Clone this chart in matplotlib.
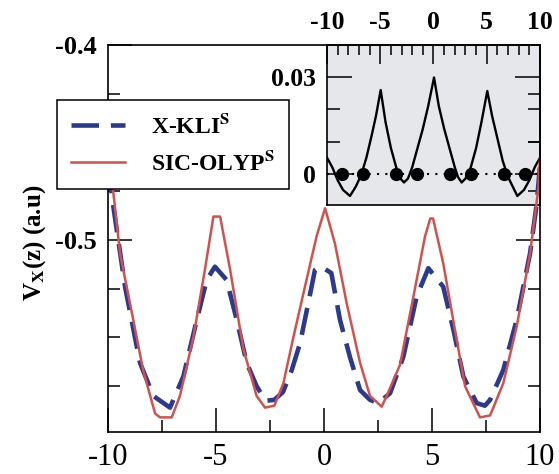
import matplotlib
matplotlib.use("Agg")
import matplotlib.pyplot as plt
from matplotlib.ticker import MultipleLocator, FixedLocator, FixedFormatter

plt.rcParams['font.family'] = ['Liberation Serif', 'DejaVu Serif']
plt.rcParams['mathtext.fontset'] = 'stix'
plt.rcParams['axes.unicode_minus'] = False

# ---------------- data ----------------
red_x = [-10, -9.75, -9.44, -8.83, -8.37, -7.82, -7.59, -7.05, -6.67, -6.05, -5.51,
         -5.12, -4.81, -4.35, -3.73, -3.12, -2.73, -2.3, -1.88, -1.42, -0.81, -0.34,
         0.05, 0.51, 1.05, 1.67, 2.13, 2.67, 2.9, 3.52, 4.14, 4.68, 4.92, 5.05, 5.52,
         6.06, 6.53, 7.22, 7.69, 8.3, 8.92, 9.54, 9.93, 10]
red_y = [-0.458, -0.476, -0.507, -0.541, -0.567, -0.589, -0.591, -0.591, -0.580,
         -0.550, -0.515, -0.488, -0.488, -0.515, -0.556, -0.580, -0.586, -0.585,
         -0.5735, -0.550, -0.5205, -0.498, -0.4837, -0.502, -0.5325, -0.563, -0.580,
         -0.5855, -0.580, -0.564, -0.529, -0.498, -0.489, -0.489, -0.512, -0.546,
         -0.575, -0.591, -0.590, -0.5735, -0.5445, -0.507, -0.473, -0.458]

blue_x = [-10, -9.75, -9.21, -8.52, -7.9, -7.13, -6.51, -5.89, -5.43, -5.05, -4.51,
          -4.04, -3.58, -3.12, -2.7, -2.3, -1.9, -1.5, -1.11, -0.73, -0.42, -0.15,
          0.34, 0.74, 1.2, 1.67, 2.13, 2.5, 3.06, 3.67, 4.29, 4.83, 5.52, 5.99, 6.45,
          7.07, 7.45, 7.69, 8.3, 8.92, 9.54, 9.85, 10]
blue_y = [-0.462, -0.483, -0.524, -0.563, -0.580, -0.586, -0.570, -0.541, -0.5205,
          -0.5137, -0.5205, -0.541, -0.563, -0.575, -0.5825, -0.582, -0.578, -0.567,
          -0.553, -0.5325, -0.5154, -0.5135, -0.517, -0.541, -0.560, -0.577, -0.582,
          -0.5837, -0.5786, -0.560, -0.529, -0.5145, -0.524, -0.546, -0.570, -0.5837,
          -0.585, -0.582, -0.5667, -0.541, -0.5068, -0.4812, -0.462]

inset_x = [-10, -9.5, -9.0, -8.5, -7.84, -7.3, -6.8, -6.3, -5.8, -5.4, -4.96, -4.5,
           -4.0, -3.5, -3.1, -2.77, -2.4, -2.0, -1.5, -1.0, -0.5, 0.05, 0.5, 1.0, 1.5,
           2.0, 2.3, 2.64, 3.0, 3.5, 4.0, 4.5, 5.05, 5.5, 6.0, 6.5, 7.0, 7.87, 8.5,
           9.0, 9.5, 10]
inset_y = [0.005, 0.002, -0.002, -0.005, -0.0069, -0.004, -0.0005, 0.005, 0.012,
           0.018, 0.026, 0.016, 0.008, 0.002, -0.0015, -0.0027, -0.0015, 0.002, 0.008,
           0.014, 0.021, 0.0299, 0.021, 0.014, 0.008, 0.002, -0.001, -0.0027, -0.0015,
           0.002, 0.008, 0.016, 0.0257, 0.018, 0.011, 0.004, -0.001, -0.0069, -0.005,
           -0.002, 0.002, 0.005]

dots_x = [-8.62, -6.62, -3.52, -1.58, 1.55, 3.49, 6.62, 8.59]
dots_y = [0, 0, 0, 0, 0, 0, 0, 0]

main_xticks = [-10, -5, 0, 5, 10]
main_xlabels = ['-10', '-5', '0', '5', '10']
main_yticks = [-0.5, -0.4]
main_ylabels = ['-0.5', '-0.4']
inset_yticks = [0, 0.03]
inset_ylabels = ['0', '0.03']
labels = [r'X-KLI$^{\mathbf{S}}$', r'SIC-OLYP$^{\mathbf{S}}$']

# ---------------- figure ----------------
W, H = 559, 474
fig = plt.figure(figsize=(W / 100, H / 100), dpi=100)
fig.patch.set_facecolor('white')

def rect(l, t, r, b):
    return [l / W, 1 - b / H, (r - l) / W, (b - t) / H]

ax_in = fig.add_axes(rect(327, 45, 540, 205), zorder=1)
ax = fig.add_axes(rect(108, 45, 540, 432), zorder=2)
ax.patch.set_alpha(0)

# main curves
l1, = ax.plot(blue_x, blue_y, color='#2b3a8e', lw=3.3, dashes=(6, 2.6),
              dash_capstyle='butt')
l2, = ax.plot(red_x, red_y, color='#d4504c', lw=1.8)

ax.set_xlim(-10, 10)
ax.set_ylim(-0.5985, -0.4)
ax.xaxis.set_major_locator(FixedLocator(main_xticks))
ax.xaxis.set_major_formatter(FixedFormatter(main_xlabels))
ax.xaxis.set_minor_locator(MultipleLocator(2.5))
ax.yaxis.set_major_locator(FixedLocator(main_yticks))
ax.yaxis.set_major_formatter(FixedFormatter(main_ylabels))
ax.yaxis.set_minor_locator(MultipleLocator(0.025))
ax.tick_params(which='both', direction='in', top=False, bottom=True,
               left=True, right=True, width=1.1)
ax.tick_params(which='major', length=17.5)
ax.tick_params(which='minor', length=8.5)
ax.tick_params(axis='x', which='major', labelsize=22, pad=8)
ax.tick_params(axis='y', which='major', labelsize=19, pad=8)
for lab in ax.get_yticklabels():
    lab.set_fontweight('bold')
for s in ax.spines.values():
    s.set_linewidth(1.2)

ax.set_ylabel(r'V$_{\mathbf{X}}$(z) (a.u)', fontsize=18, fontweight='bold')
ax.yaxis.set_label_coords(-0.14, 0.49)

leg = ax.legend([l1, l2], labels, loc='upper left',
                bbox_to_anchor=(57 / W, 1 - 100 / H), bbox_transform=fig.transFigure,
                borderaxespad=0, fancybox=False, framealpha=1, edgecolor='black',
                prop={'weight': 'bold', 'size': 17}, handlelength=2.3,
                handletextpad=1.1, borderpad=0.6, labelspacing=0.55)
leg.get_frame().set_linewidth(1.1)
leg.set_zorder(10)

# inset
ax_in.set_facecolor('#e6e7ea')
ax_in.axhline(0, color='black', lw=1.5, ls=(0, (1, 3)), zorder=2)
ax_in.plot(inset_x, inset_y, color='black', lw=1.7, zorder=3)
ax_in.plot(dots_x, dots_y, 'o', color='black', ms=8.5, zorder=4)
ax_in.set_xlim(-10, 10)
ax_in.set_ylim(-0.0097, 0.04)
ax_in.xaxis.set_major_locator(MultipleLocator(5))
ax_in.xaxis.set_minor_locator(MultipleLocator(1))
ax_in.xaxis.set_major_formatter(plt.FuncFormatter(lambda v, p: '%d' % round(v)))
ax_in.yaxis.set_major_locator(FixedLocator(inset_yticks))
ax_in.yaxis.set_major_formatter(FixedFormatter(inset_ylabels))
ax_in.yaxis.set_minor_locator(FixedLocator([0.01, 0.02]))
ax_in.tick_params(which='both', direction='in', top=True, bottom=False,
                  labeltop=True, labelbottom=False, left=True, right=True, width=1.1)
ax_in.tick_params(axis='x', which='major', length=14, labelsize=18.5, pad=8)
ax_in.tick_params(axis='x', which='minor', length=7.5)
ax_in.tick_params(axis='y', which='major', length=18, labelsize=18.5, pad=8)
ax_in.tick_params(axis='y', which='minor', length=9)
for lab in ax_in.get_xticklabels() + ax_in.get_yticklabels():
    lab.set_fontweight('bold')
for s in ax_in.spines.values():
    s.set_linewidth(1.2)

fig.savefig('out.png', dpi=100)
